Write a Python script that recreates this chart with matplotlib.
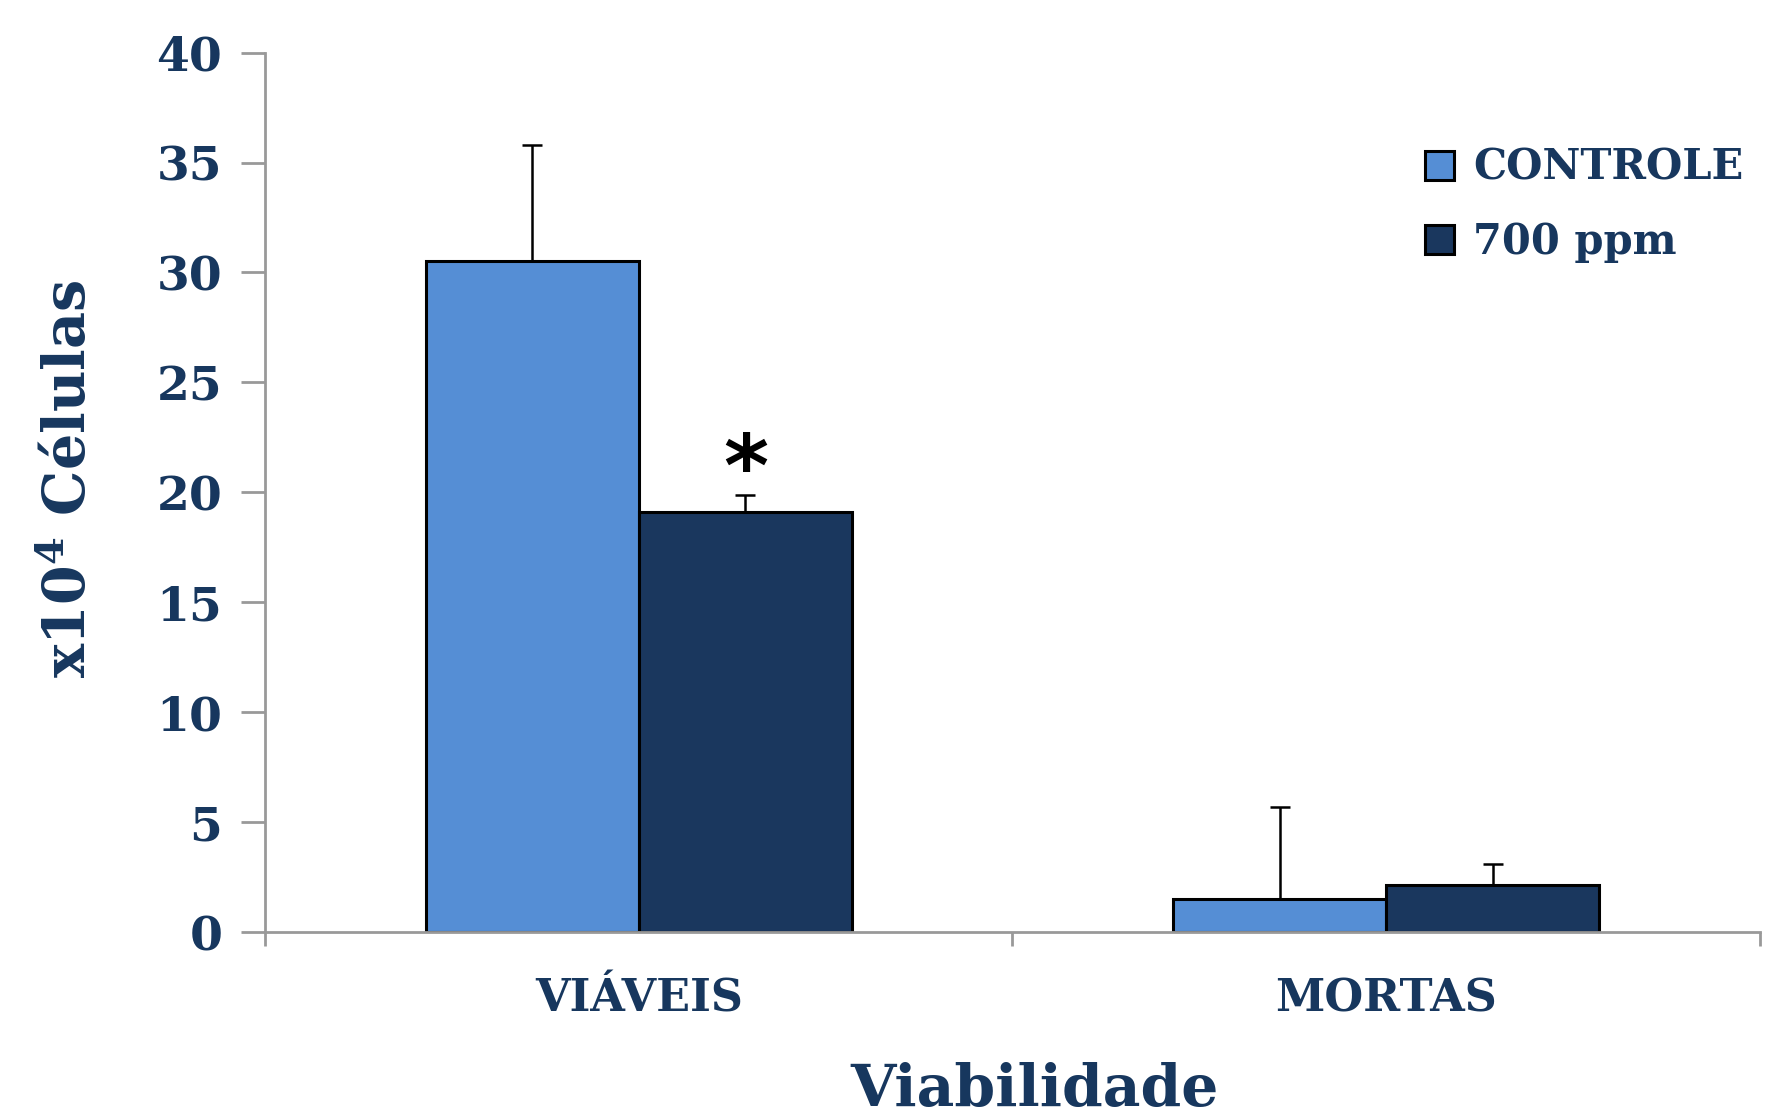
import numpy as np
import matplotlib.pyplot as plt

plt.rcParams['font.family'] = 'DejaVu Serif'
plt.rcParams['font.weight'] = 'bold'
plt.rcParams['mathtext.fontset'] = 'dejavuserif'

categorias = ['VIÁVEIS', 'MORTAS']
controle = [30.5, 1.5]
controle_err = [5.3, 4.2]
ppm700 = [19.1, 2.15]
ppm700_err = [0.8, 0.95]

azul_claro = '#558ED5'
azul_escuro = '#1A375E'
cor_texto = '#17375E'

fig = plt.figure(figsize=(17.81, 11.19), dpi=100)
ax = fig.add_axes([0.149, 0.167, 0.839, 0.786])

x = np.arange(len(categorias))
w = 0.285

ax.bar(x - w/2, controle, w, color=azul_claro, edgecolor='black', linewidth=2.2,
       label='CONTROLE', zorder=2)
ax.bar(x + w/2, ppm700, w, color=azul_escuro, edgecolor='black', linewidth=2.2,
       label='700 ppm', zorder=2)
ax.errorbar(x - w/2, controle, yerr=[np.zeros(2), controle_err], fmt='none',
            ecolor='black', elinewidth=1.8, capsize=7, capthick=1.8, zorder=3)
ax.errorbar(x + w/2, ppm700, yerr=[np.zeros(2), ppm700_err], fmt='none',
            ecolor='black', elinewidth=1.8, capsize=7, capthick=1.8, zorder=3)

# asterisco de significancia
ax.text(x[0] + w/2, ppm700[0] + ppm700_err[0] + 1.0, '*', ha='center', va='center',
        fontsize=62, fontweight='bold', family='DejaVu Sans', color='black')

ax.set_xlim(-0.5, 1.5)
ax.set_ylim(0, 40)
ax.set_yticks(range(0, 41, 5))
ax.set_xticks([-0.5, 0.5, 1.5])
ax.set_xticklabels([])
ax.set_xticks(x, minor=True)
ax.set_xticklabels(categorias, minor=True)

for s in ['top', 'right']:
    ax.spines[s].set_visible(False)
for s in ['left', 'bottom']:
    ax.spines[s].set_color('#999999')
    ax.spines[s].set_linewidth(2)

ax.tick_params(axis='y', length=17, width=2, color='#999999', pad=14,
               labelsize=34, labelcolor=cor_texto)
ax.tick_params(axis='x', which='major', length=10, width=2, color='#999999')
ax.tick_params(axis='x', which='minor', length=0, pad=33, labelsize=32,
               labelcolor=cor_texto)

ax.set_ylabel(r'x10$^\mathbf{4}$ Células', fontsize=41, fontweight='bold',
              color=cor_texto)
ax.yaxis.set_label_coords(-0.112, 0.515)
ax.set_xlabel('Viabilidade', fontsize=42, fontweight='bold', color=cor_texto)
ax.xaxis.set_label_coords(0.515, -0.148)

leg = ax.legend(loc='upper left', bbox_to_anchor=(0.776, 0.893), frameon=False,
                fontsize=30, handlelength=0.7, handleheight=0.7, handletextpad=0.45,
                labelspacing=0.78, borderpad=0, borderaxespad=0,
                labelcolor=cor_texto)

plt.savefig('out.png', dpi=100)
